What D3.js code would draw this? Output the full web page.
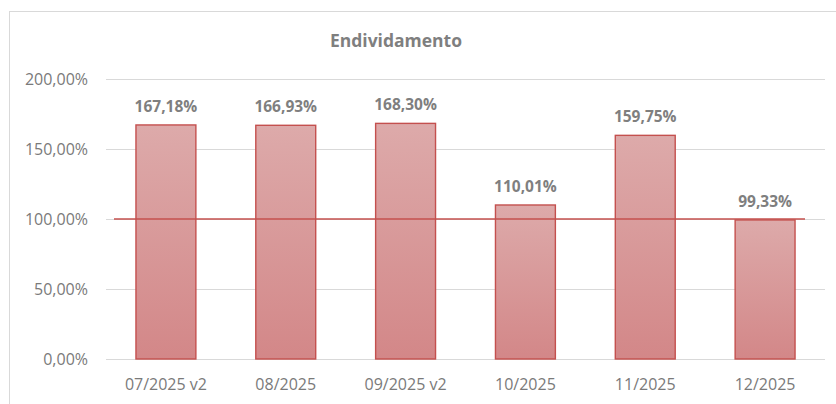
<!DOCTYPE html>
<html>
<head>
  <meta charset="utf-8">
  <title>Endividamento</title>
  <script src="https://d3js.org/d3.v7.min.js"></script>
  <style>
    body { margin: 0; background: #fff; }
    text { font-family: "Open Sans", "Liberation Sans", Arial, sans-serif; }
  </style>
</head>
<body>
  <div id="chart"></div>

  <script>
    // data
    const categories = ["07/2025 v2", "08/2025", "09/2025 v2", "10/2025", "11/2025", "12/2025"];
    const values = [167.18, 166.93, 168.30, 110.01, 159.75, 99.33];
    const yTicks = [0, 50, 100, 150, 200];
    const referenceValue = 100;

    const width = 836, height = 404;
    const svg = d3.select("#chart").append("svg")
      .attr("width", width)
      .attr("height", height);

    // chart frame (runs off the right / bottom of the picture)
    svg.append("rect")
      .attr("x", 9.5).attr("y", 11.5)
      .attr("width", 900).attr("height", 500)
      .attr("fill", "#fff")
      .attr("stroke", "#d9d9d9");

    const x = d3.scaleBand()
      .domain(categories)
      .range([106, 825])
      .paddingInner(0.5)
      .paddingOuter(0.25);

    const y = d3.scaleLinear().domain([0, 200]).range([359, 79]);

    const fmt = v => v.toFixed(2).replace(".", ",") + "%";

    // gradient for the bars
    const grad = svg.append("defs").append("linearGradient")
      .attr("id", "barFill")
      .attr("x1", 0).attr("y1", 0).attr("x2", 0).attr("y2", 1);
    grad.append("stop").attr("offset", "0%").attr("stop-color", "#ddaaaa");
    grad.append("stop").attr("offset", "100%").attr("stop-color", "#d38788");

    // gridlines
    svg.append("g").selectAll("line")
      .data(yTicks)
      .join("line")
      .attr("x1", x.range()[0]).attr("x2", x.range()[1])
      .attr("y1", d => Math.round(y(d)) + 0.5)
      .attr("y2", d => Math.round(y(d)) + 0.5)
      .attr("stroke", "#d9d9d9")
      .attr("stroke-width", 1);

    // y tick labels
    svg.append("g").selectAll("text")
      .data(yTicks)
      .join("text")
      .attr("x", 88)
      .attr("y", d => y(d))
      .attr("dy", "0.35em")
      .attr("text-anchor", "end")
      .attr("font-size", "16px")
      .attr("fill", "#7a7a7a")
      .text(d => fmt(d));

    // bars
    svg.append("g").selectAll("rect")
      .data(values)
      .join("rect")
      .attr("x", (d, i) => x(categories[i]))
      .attr("y", d => y(d))
      .attr("width", x.bandwidth())
      .attr("height", d => y(0) - y(d))
      .attr("fill", "url(#barFill)")
      .attr("stroke", "#c4504e")
      .attr("stroke-width", 1.4);

    // 100% reference line
    svg.append("line")
      .attr("x1", x.range()[0] + 8)
      .attr("x2", x.range()[1] - 20)
      .attr("y1", y(referenceValue))
      .attr("y2", y(referenceValue))
      .attr("stroke", "#c4504e")
      .attr("stroke-width", 1.3);

    // value labels
    svg.append("g").selectAll("text")
      .data(values)
      .join("text")
      .attr("x", (d, i) => x(categories[i]) + x.bandwidth() / 2)
      .attr("y", d => y(d) - 13)
      .attr("text-anchor", "middle")
      .attr("font-size", "15.5px")
      .attr("font-weight", "bold")
      .attr("fill", "#7f7f7f")
      .text(d => fmt(d));

    // category labels
    svg.append("g").selectAll("text")
      .data(categories)
      .join("text")
      .attr("x", d => x(d) + x.bandwidth() / 2)
      .attr("y", 390)
      .attr("text-anchor", "middle")
      .attr("font-size", "16px")
      .attr("fill", "#7a7a7a")
      .text(d => d);

    // title
    svg.append("text")
      .attr("x", 396)
      .attr("y", 47)
      .attr("text-anchor", "middle")
      .attr("font-size", "17.5px")
      .attr("font-weight", "bold")
      .attr("fill", "#7f7f7f")
      .text("Endividamento");
  </script>
</body>
</html>
